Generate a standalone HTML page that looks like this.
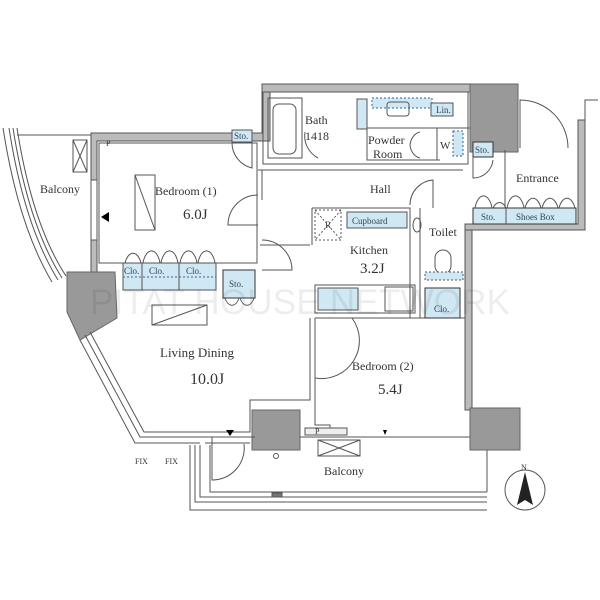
<!DOCTYPE html>
<html><head><meta charset="utf-8"><style>
html,body{margin:0;padding:0;background:#fff}
svg{display:block}
text{font-family:"Liberation Serif",serif;fill:#333}
.s{font-size:9px;fill:#345}
.wm{font-family:"Liberation Sans",sans-serif;fill:#000;fill-opacity:0.07}
</style></head><body>
<svg width="600" height="600" viewBox="0 0 600 600" xmlns="http://www.w3.org/2000/svg">
<g fill="none" stroke="#555" stroke-width="1">
<path d="M3,128 Q18,225 52,282"/>
<path d="M9,128 Q24,225 58,280"/>
<path d="M13,128 Q28,224 62,278"/>
<path d="M17,128 Q32,224 66,276"/>
<line x1="17" y1="135" x2="92" y2="135"/>
<rect x="73" y="140" width="14" height="32"/>
<line x1="73" y1="140" x2="87" y2="172"/><line x1="87" y1="140" x2="73" y2="172"/>
</g>
<g fill="#bbb" stroke="#555" stroke-width="1">
<path d="M91,133 L262,133 L262,84 L470,84 L470,92 L270,92 L270,141 L97,141 L97,272 L91,272 Z"/>
<rect x="91" y="180" width="6" height="60" fill="#fff"/>
<path d="M465,230 L472,230 L472,410 L465,410 Z"/>
<path d="M465,230 L585,230 L585,120 L578,120 L578,224 L465,224 Z"/>
</g>
<g fill="#999" stroke="#666">
<rect x="470" y="84" width="48" height="68"/>
<polygon points="67,272 115,272 117,318 80,340 67,312"/>
<rect x="252" y="410" width="48" height="40"/>
<rect x="470" y="408" width="50" height="42"/>
</g>
<g fill="none" stroke="#555" stroke-width="1">
<rect x="99" y="143" width="158" height="120"/>
<rect x="135" y="175" width="20" height="55"/><line x1="135" y1="175" x2="155" y2="230"/>
<path d="M258,195 A30,30 0 0 0 228,225 L258,225"/>
<path d="M262,240 A30,30 0 0 1 292,270 L262,270"/>
<rect x="123" y="263" width="93" height="27" fill="#cfe8f3"/>
<line x1="142" y1="263" x2="142" y2="290"/><line x1="179" y1="263" x2="179" y2="290"/>
<line x1="123" y1="277" x2="216" y2="277" stroke-dasharray="2,2" stroke="#369"/>
<path d="M125,263 A9,18 0 0 1 141,263 M143,263 A9,18 0 0 1 160,263 M161,263 A9,18 0 0 1 178,263 M180,263 A9,18 0 0 1 197,263 M198,263 A9,18 0 0 1 215,263"/>
<rect x="223" y="270" width="32" height="28" fill="#cfe8f3" stroke="#333"/>
<path d="M225,298 A8,14 0 0 0 239,298 M240,298 A8,14 0 0 0 254,298"/>
<rect x="152" y="305" width="55" height="20"/><line x1="152" y1="325" x2="207" y2="305"/>
<rect x="232" y="130" width="20" height="12" fill="#cfe8f3"/>
<path d="M252,142 L252,168 A26,26 0 0 1 232,142"/>
<path d="M80,340 L135,443 L200,443"/>
<path d="M85,335 L140,437 L205,437"/>
<path d="M90,332 L144,432 L205,432"/>
<path d="M205,432 L250,432 L250,400 L310,400 L310,318"/>
<path d="M205,437 L255,437 M300,437 L470,437"/>
<path d="M205,443 L250,443"/>
<path d="M212,437 L212,480 A32,32 0 0 0 244,444"/>
<path d="M315,318 L465,318 M315,318 L315,425 L330,425 L330,432"/>
<path d="M315,318 L315,378 A38,38 0 0 0 352,318" />
<rect x="305" y="428" width="42" height="7" fill="#eee"/>
<rect x="318" y="440" width="42" height="16"/><line x1="318" y1="440" x2="360" y2="456"/><line x1="360" y1="440" x2="318" y2="456"/>
<circle cx="276" cy="456" r="2.5"/>
<path d="M210,445 L210,492 L487,492 M487,450 L487,492"/>
<path d="M200,445 L200,497 L487,497"/>
<path d="M195,445 L195,502 L487,502"/>
<path d="M190,445 L190,510 L487,510"/>
<rect x="272" y="493" width="10" height="4" fill="#777"/>
<rect x="263" y="92" width="205" height="72"/>
<rect x="268" y="98" width="34" height="60"/>
<rect x="273" y="104" width="23" height="50" rx="6"/>
<rect x="357" y="99" width="10" height="30" fill="#cfe8f3"/>
<path d="M367,128 L367,160 L440,160 M437,128 L437,160 M367,128 L470,128"/>
<path d="M305,132 A25,25 0 0 0 318,158"/>
<rect x="372" y="98" width="60" height="10" fill="#cfe8f3" stroke="#369" stroke-dasharray="2,2"/>
<rect x="387" y="102" width="22" height="14" rx="3"/>
<rect x="431" y="103" width="22" height="13" fill="#cfe8f3"/>
<rect x="453" y="131" width="10" height="25" fill="#cfe8f3" stroke="#369" stroke-dasharray="2,2"/>
<path d="M420,132 A12,15 0 0 0 410,145 A12,15 0 0 0 420,158"/>
<rect x="473" y="142" width="20" height="15" fill="#cfe8f3" stroke="#333"/>
<path d="M473,157 L473,178 A20,20 0 0 0 493,160"/>
<line x1="262" y1="170" x2="262" y2="200"/>
<line x1="258" y1="170" x2="463" y2="170"/>
<path d="M433,208 L433,180 A25,25 0 0 0 410,205"/>
<path d="M312,208 L410,208 L410,318 M312,208 L312,245 M260,245 L310,245"/>
<rect x="315" y="210" width="26" height="30" stroke-dasharray="2,2"/>
<line x1="315" y1="210" x2="341" y2="240" stroke-dasharray="2,2"/><line x1="341" y1="210" x2="315" y2="240" stroke-dasharray="2,2"/>
<rect x="347" y="212" width="60" height="16" fill="#cfe8f3"/>
<rect x="315" y="285" width="100" height="28"/>
<rect x="318" y="288" width="40" height="22" fill="#cfe8f3"/>
<rect x="385" y="287" width="28" height="24"/>
<ellipse cx="417" cy="225" rx="4" ry="7"/>
<path d="M420,208 L420,318 L465,318"/>
<rect x="435" y="250" width="16" height="24" rx="8"/>
<rect x="425" y="272" width="38" height="8" fill="#cfe8f3" stroke-dasharray="2,2"/>
<rect x="425" y="288" width="35" height="30" fill="#cfe8f3" stroke="#333"/>
<path d="M520,148 L520,100 A48,48 0 0 1 568,148"/>
<rect x="473" y="208" width="103" height="16" fill="#cfe8f3" stroke="#333"/>
<line x1="506" y1="208" x2="506" y2="224"/>
<path d="M475,208 A9,18 0 0 1 492,208 M493,208 A9,18 0 0 1 506,208 M507,208 A9,18 0 0 1 524,208 M525,208 A9,18 0 0 1 541,208 M542,208 A9,18 0 0 1 558,208 M559,208 A9,18 0 0 1 575,208"/>
<line x1="505" y1="150" x2="505" y2="208"/>
<path d="M585,120 L585,100 L598,100"/>
<circle cx="525" cy="490" r="20"/>
</g>
<polygon points="525,472 517,505 525,500 533,505" fill="#222"/>
<polygon points="383,430 387,430 385,435" fill="#000"/>
<polygon points="226,430 234,430 230,436" fill="#000"/>
<polygon points="101,217 109,212 109,222" fill="#000"/>
<text x="40" y="193" font-size="12">Balcony</text>
<text x="155" y="195" font-size="12">Bedroom (1)</text>
<text x="183" y="219" font-size="15">6.0J</text>
<text x="305" y="124" font-size="12">Bath</text>
<text x="305" y="140" font-size="12">1418</text>
<text x="368" y="144" font-size="12">Powder</text>
<text x="373" y="158" font-size="12">Room</text>
<text x="440" y="149" font-size="11">W</text>
<text x="370" y="193" font-size="12">Hall</text>
<text x="516" y="182" font-size="12">Entrance</text>
<text x="429" y="236" font-size="12">Toilet</text>
<text x="350" y="254" font-size="12">Kitchen</text>
<text x="360" y="273" font-size="15">3.2J</text>
<text x="160" y="357" font-size="13">Living Dining</text>
<text x="190" y="384" font-size="16">10.0J</text>
<text x="352" y="370" font-size="12">Bedroom (2)</text>
<text x="378" y="394" font-size="15">5.4J</text>
<text x="324" y="475" font-size="12">Balcony</text>
<text x="135" y="464" font-size="8">FIX</text>
<text x="165" y="464" font-size="8">FIX</text>
<text x="521" y="470" font-size="8">N</text>
<text x="234" y="139" class="s">Sto.</text>
<text x="352" y="224" class="s">Cupboard</text>
<text x="325" y="228" class="s">R</text>
<text x="436" y="113" class="s">Lin.</text>
<text x="475" y="153" class="s">Sto.</text>
<text x="481" y="220" class="s">Sto.</text>
<text x="516" y="220" class="s" font-size="8">Shoes Box</text>
<text x="124" y="274" class="s">Clo.</text>
<text x="149" y="274" class="s">Clo.</text>
<text x="186" y="274" class="s">Clo.</text>
<text x="229" y="287" class="s">Sto.</text>
<text x="434" y="312" class="s">Clo.</text>
<text x="106" y="146" font-size="8">P</text>
<text x="315" y="434" font-size="8">P</text>
<text x="90" y="314" font-size="35" class="wm" textLength="420">PITAT HOUSE NETWORK</text>
</svg>
</body></html>
